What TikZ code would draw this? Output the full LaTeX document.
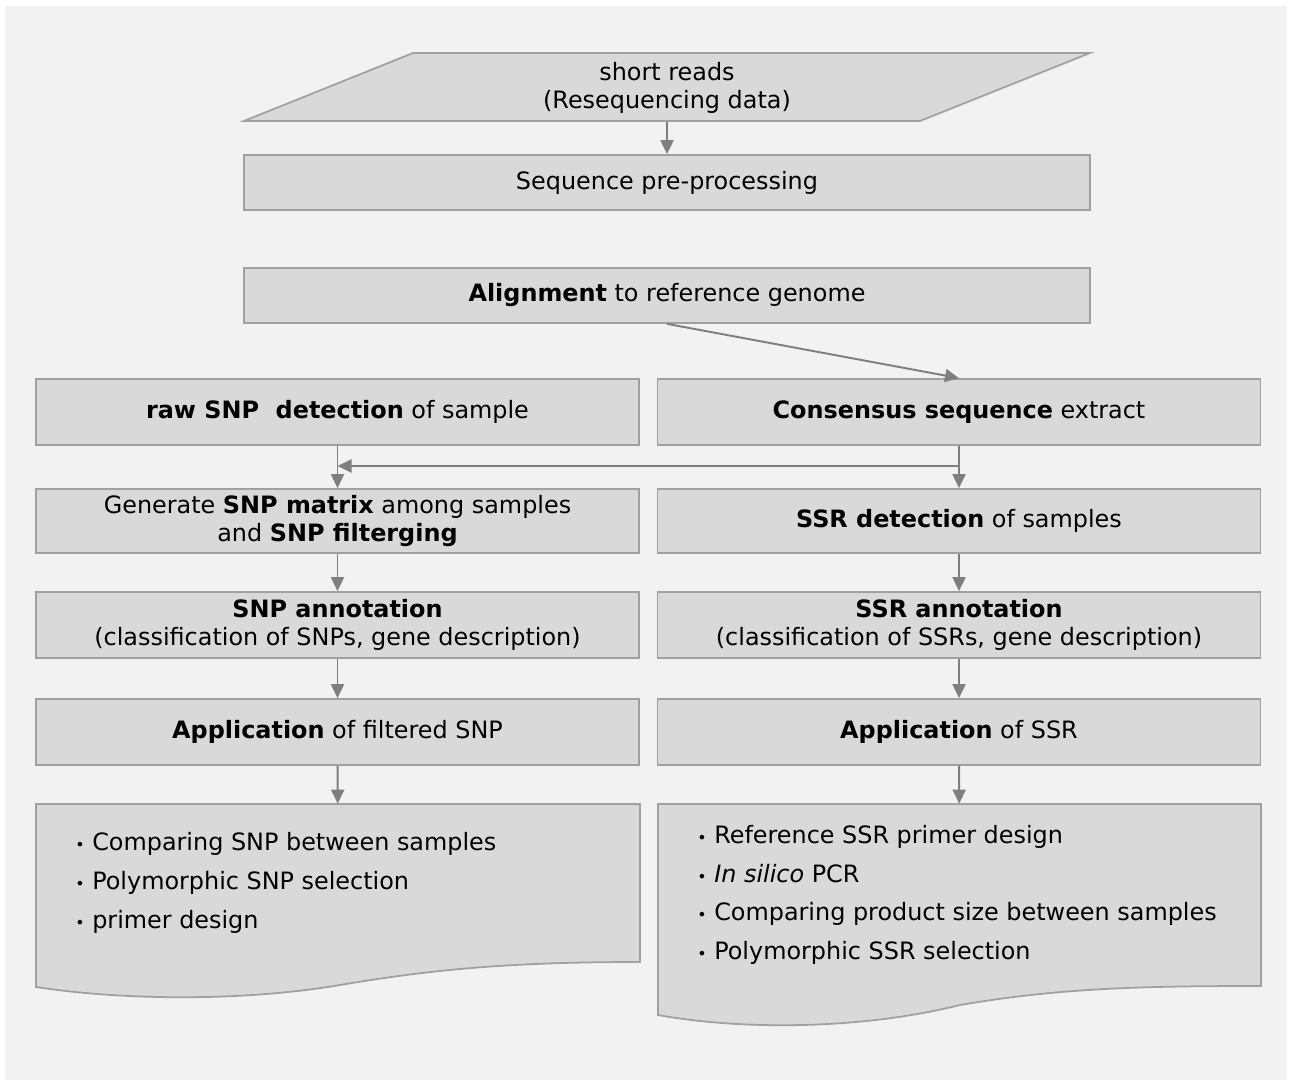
\documentclass[tikz,border=0pt]{standalone}
\usepackage{fontspec}
\setmainfont{DejaVu Sans}
\usetikzlibrary{positioning, arrows.meta}
\definecolor{boxfill}{HTML}{D9D9D9}
\definecolor{boxline}{HTML}{A0A0A0}
\definecolor{arrowgray}{HTML}{7F7F7F}
\definecolor{paper}{HTML}{F2F2F2}
\tikzset{
every node/.style={font=\fontsize{13.6}{16}\selectfont, align=center, inner sep=0pt}, % same text for all boxes
stepbox/.style={draw=boxline, fill=boxfill, line width=1pt, minimum height=1.32cm}, % a grey process box
widebox/.style={stepbox, minimum width=16.92cm, minimum height=1.1cm}, % the two boxes on top
colbox/.style={stepbox, minimum width=12.06cm}, % boxes of the two columns
flow/.style={draw=arrowgray, line width=1.1pt, -{Triangle[length=0.28cm, width=0.26cm]}}, % the grey arrows
listtext/.style={font=\fontsize{13.6}{22}\selectfont, align=left, anchor=west},
}

\begin{document}
\begin{tikzpicture}[x=0.02cm, y=-0.02cm]

% page and background
\fill[white] (0,0) rectangle (1291,1084);
\fill[paper] (5,6) rectangle (1287,1080);

% input data
\fill[boxfill, draw=boxline, line width=1pt] (413,53) -- (1090,53) -- (920,121) -- (244,121) -- cycle;
\node[minimum height=1.36cm] at (667,88) (reads) {short reads\\(Resequencing data)};

\node[widebox] at (667,182.5) (prep) {Sequence pre-processing};
\node[widebox] at (667,295.5) (align) {\textbf{Alignment} to reference genome};

% SNP column
\node[colbox] at (337.5,412) (raw) {\textbf{raw SNP\ \ detection} of sample};
\node[colbox, minimum height=1.28cm] at (337.5,521) (matrix) {Generate \textbf{SNP matrix} among samples\\and \textbf{SNP filterging}};
\node[colbox] at (337.5,625) (snpann) {\textbf{SNP annotation}\\(classification of SNPs, gene description)};
\node[colbox] at (337.5,732) (snpapp) {\textbf{Application} of filtered SNP};

% SSR column
\node[colbox] at (959,412) (cons) {\textbf{Consensus sequence} extract};
\node[colbox, minimum height=1.28cm] at (959,521) (ssrdet) {\textbf{SSR detection} of samples};
\node[colbox] at (959,625) (ssrann) {\textbf{SSR annotation}\\(classification of SSRs, gene description)};
\node[colbox] at (959,732) (ssrapp) {\textbf{Application} of SSR};

% document shapes with the uses
\fill[boxfill, draw=boxline, line width=1pt] (36,804) -- (640,804) -- (640,962)
  .. controls (520,962) and (440,968) .. (340,985)
  .. controls (240,1002) and (120,1000) .. (36,987) -- cycle;
\fill[boxfill, draw=boxline, line width=1pt] (658,804) -- (1261,804) -- (1261,986)
  .. controls (1140,986) and (1060,988) .. (960,1005)
  .. controls (860,1030) and (740,1030) .. (658,1015) -- cycle;
\node[minimum width=12.08cm, minimum height=3.16cm] at (338,883) (snpuse) {};
\node[minimum width=12.06cm, minimum height=3.64cm] at (959.5,895) (ssruse) {};

\node[listtext] at (75,883) (snplist) {{\small•}\ Comparing SNP between samples\\{\small•}\ Polymorphic SNP selection\\{\small•}\ primer design};
\node[listtext] at (697,895) (ssrlist) {{\small•}\ Reference SSR primer design\\{\small•}\ \textit{In silico} PCR\\{\small•}\ Comparing product size between samples\\{\small•}\ Polymorphic SSR selection};

% arrows
\coordinate (fork) at (0,466);
\draw[flow] (reads.south) -- (prep.north);
\draw[flow] (align.south) -- (cons.north);
\draw[flow] (raw.south) -- (matrix.north);
\draw[flow] (cons.south) -- (ssrdet.north);
\draw[flow] (cons.south |- fork) -- (raw.south |- fork);
\draw[flow] (matrix) -- (snpann);
\draw[flow] (snpann) -- (snpapp);
\draw[flow] (snpapp) -- (snpuse);
\draw[flow] (ssrdet) -- (ssrann);
\draw[flow] (ssrann) -- (ssrapp);
\draw[flow] (ssrapp) -- (ssruse);

\end{tikzpicture}
\end{document}
